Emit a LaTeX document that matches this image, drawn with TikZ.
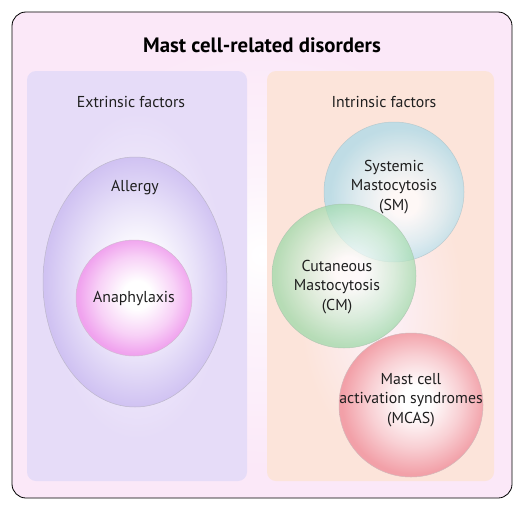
\documentclass[tikz,border=0pt]{standalone}
\usepackage{fontspec}
\setmainfont{PT Sans}
\definecolor{outerbg}{HTML}{FBE8F8}
\definecolor{lav}{HTML}{D0C2F2}
\definecolor{lavpanel}{HTML}{E6DCF8}
\definecolor{peach}{HTML}{FCE4DA}
\definecolor{pinkc}{HTML}{F0A2EE}
\definecolor{bluec}{HTML}{A8DAEA}
\definecolor{greenc}{HTML}{9CD9A8}
\definecolor{redc}{HTML}{F2A0A8}
\pgfdeclareradialshading{shbg}{\pgfpoint{0bp}{0bp}}{color(0bp)=(white); color(8bp)=(white!50!outerbg); color(22bp)=(outerbg); color(50bp)=(outerbg)}
\pgfdeclareradialshading{shlav}{\pgfpoint{0bp}{0bp}}{color(0bp)=(white!75!lavpanel); color(20bp)=(lavpanel); color(50bp)=(lavpanel)}
\pgfdeclareradialshading{shpeach}{\pgfpoint{0bp}{-5bp}}{color(0bp)=(white!40!outerbg); color(18bp)=(peach); color(50bp)=(peach)}
\pgfdeclareradialshading{shallergy}{\pgfpoint{1bp}{0bp}}{color(0bp)=(white); color(6bp)=(white); color(16bp)=(white!50!lav); color(25bp)=(lav); color(50bp)=(lav)}
\pgfdeclareradialshading{shana}{\pgfpoint{1.5bp}{1.5bp}}{color(0bp)=(white); color(6bp)=(white); color(17bp)=(white!50!pinkc); color(25bp)=(pinkc); color(50bp)=(pinkc)}
\pgfdeclareradialshading{shblue}{\pgfpoint{4bp}{-4bp}}{color(0bp)=(white); color(5bp)=(white); color(16bp)=(white!50!bluec); color(25bp)=(bluec); color(50bp)=(bluec)}
\pgfdeclareradialshading{shgreen}{\pgfpoint{2bp}{2bp}}{color(0bp)=(white); color(5bp)=(white); color(16bp)=(white!50!greenc); color(25bp)=(greenc); color(50bp)=(greenc)}
\pgfdeclareradialshading{shred}{\pgfpoint{2bp}{2bp}}{color(0bp)=(white); color(5bp)=(white); color(16bp)=(white!50!redc); color(25bp)=(redc); color(50bp)=(redc)}
\tikzset{
  lbl/.style={font=\fontsize{15.8}{19.5}\selectfont, text=black!88, align=center, inner sep=0pt},
  blob/.style={draw=#1, line width=0.5pt},
}
\begin{document}
\begin{tikzpicture}[x=1pt,y=-1pt]
\useasboundingbox (0,0) rectangle (524,511);
\fill[white] (0,0) rectangle (524,511);
\shade[shading=shbg, draw=black, line width=0.8pt, rounded corners=14pt] (12,12) rectangle (512,498);
\shade[shading=shlav, rounded corners=9pt] (27,71) rectangle (247,481);
\shade[shading=shpeach, rounded corners=9pt] (267,71) rectangle (494,481);
\node[font=\fontsize{20.8}{24}\selectfont\bfseries, inner sep=0pt] (title) at (262,45) {Mast cell-related disorders};
\node[lbl] (ext) at (131,102) {Extrinsic factors};
\node[lbl] (int) at (384,102) {Intrinsic factors};
% extrinsic
\shade[shading=shallergy, blob=lav!70!black!60] (135,282) ellipse [x radius=92, y radius=125];
\node[lbl] (allergy) at (135,188) {Allergy};
\shade[shading=shana, blob=pinkc!70!black!50] (134,298) circle [radius=58];
\node[lbl] (ana) at (134,298) {Anaphylaxis};
% intrinsic
\begin{scope}[opacity=0.72]
\shade[shading=shblue, blob=bluec!70!black!60] (394,192) circle [radius=70];
\shade[shading=shgreen, blob=greenc!70!black!60] (344,276) circle [radius=72];
\end{scope}
\shade[shading=shred, blob=redc!70!black!50] (411,405) circle [radius=72];
\node[lbl] (sm) at (394,187) {Systemic\\Mastocytosis\\(SM)};
\node[lbl] (cm) at (337,287) {Cutaneous\\Mastocytosis\\(CM)};
\node[lbl] (mcas) at (411,400) {Mast cell\\activation syndromes\\(MCAS)};
\end{tikzpicture}
\end{document}
